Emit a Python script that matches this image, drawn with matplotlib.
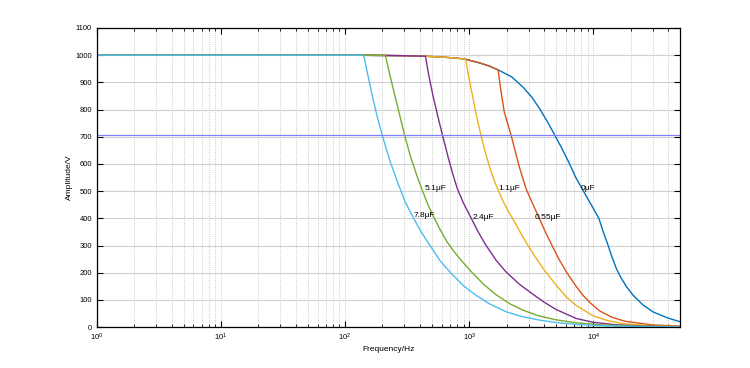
import numpy as np
import matplotlib.pyplot as plt
from matplotlib.ticker import LogLocator, NullFormatter, MultipleLocator

# amplitude vs frequency (f in Hz, amplitude in V)
f_0uF = [1, 100, 200, 300, 444, 600, 800, 935, 1200, 1450, 1706, 2200, 2686,
         3200, 3664, 4200, 4843, 5600, 6397, 7155, 7960, 9290, 11060, 12000,
         13090, 14000, 15270, 16500, 18500, 20800, 25000, 30200, 40000, 50000]
a_0uF = [1000, 1000, 999, 998, 996, 993, 989, 985, 972, 960, 946, 920, 884,
         845, 805, 760, 709, 655, 602, 553, 515, 461, 400, 350,
         302, 262, 216, 185, 148, 118, 82, 56, 33, 20]

f_055uF = [1, 100, 200, 300, 444, 600, 800, 935, 1200, 1450, 1706, 1800, 1911,
           2162, 2525, 2859, 3250, 3663, 4100, 4550, 5200, 6013, 7250, 8200,
           9500, 11190, 14000, 17800, 30000, 50000]
a_055uF = [1000, 1000, 999, 998, 996, 993, 989, 985, 972, 960, 946, 868, 792,
           709, 590, 510, 452, 400, 350, 308, 255, 205, 150, 118,
           88, 60, 37, 22, 8, 4]

f_11uF = [1, 100, 200, 300, 444, 600, 800, 935, 990, 1059, 1140, 1236, 1360,
          1489, 1650, 1850, 2050, 2297, 2600, 2900, 3400, 4018, 5000, 6013,
          7250, 9890, 13000, 17800, 30000, 50000]
a_11uF = [1000, 1000, 999, 998, 996, 993, 989, 985, 920, 853, 780, 709, 635,
          575, 520, 468, 428, 390, 345, 308, 258, 210, 155, 112,
          80, 42, 24, 12, 5, 2]

f_24uF = [1, 100, 200, 300, 444, 470, 509, 555, 606, 680, 740, 800, 900,
          1027, 1180, 1358, 1650, 1969, 2500, 3140, 4000, 5000, 7250, 9890,
          15000, 25000, 50000]
a_24uF = [1000, 1000, 999, 998, 996, 930, 853, 780, 709, 620, 560, 510, 455,
          404, 350, 302, 245, 204, 160, 126, 92, 65, 32, 18,
          9, 4, 1]

f_51uF = [1, 100, 211, 230, 251, 275, 300, 340, 380, 418, 460, 504, 580, 665,
          760, 852, 1027, 1300, 1635, 2100, 2686, 3600, 5000, 7250, 12000,
          25000, 50000]
a_51uF = [1000, 1000, 999, 925, 853, 780, 709, 620, 555, 504, 455, 415, 360, 312,
          276, 248, 206, 158, 120, 87, 63, 42, 27, 16, 8,
          3, 1]

f_78uF = [1, 100, 141, 152, 165, 180, 198, 230, 270, 305, 347, 410, 480, 580,
          707, 900, 1127, 1450, 1969, 2600, 3664, 5000, 7250, 12000, 25000, 50000]
a_78uF = [1000, 1000, 1000, 930, 853, 780, 709, 610, 522, 460, 410, 350, 302, 245,
          200, 152, 118, 86, 57, 40, 26, 17, 10, 5, 2, 1]

labels = ['0μF', '0.55μF', '1.1μF', '2.4μF', '5.1μF', '7.8μF']
label_f = [7950, 3380, 1728, 1066, 437, 355]
label_a = [510, 404, 510, 404, 510, 410]

half_power = 707

colors = ['#0072BD', '#D95319', '#EDB120', '#7E2F8E', '#77AC30', '#4DBEEE']
series = [(f_0uF, a_0uF), (f_055uF, a_055uF), (f_11uF, a_11uF),
          (f_24uF, a_24uF), (f_51uF, a_51uF), (f_78uF, a_78uF)]

plt.rcParams['font.family'] = ['Liberation Sans', 'DejaVu Sans']

fig = plt.figure(figsize=(7.5, 3.68), dpi=100)
ax = fig.add_axes([0.129, 0.111, 0.778, 0.813])

for (f, a), c in zip(series, colors):
    ax.plot(f, a, color=c, linewidth=1.0)

ax.axhline(half_power, color='#7f7fff', linewidth=0.9)

for t, x, y in zip(labels, label_f, label_a):
    ax.text(x, y, t, fontsize=6, ha='left', va='center')

ax.set_xscale('log')
ax.set_xlim(1, 5e4)
ax.set_ylim(0, 1100)
ax.yaxis.set_major_locator(MultipleLocator(100))
ax.xaxis.set_major_locator(LogLocator(base=10, numticks=10))
ax.xaxis.set_minor_locator(LogLocator(base=10, subs=np.arange(2, 10), numticks=10))
ax.xaxis.set_minor_formatter(NullFormatter())

ax.grid(axis='y', which='major', color='#d0d0d0', linewidth=0.8, linestyle='-')
ax.grid(axis='x', which='both', color='#b8b8b8', linewidth=0.6, linestyle=':')
ax.set_axisbelow(True)

ax.tick_params(which='both', direction='in', top=True, right=True, labelsize=5.5)
ax.tick_params(which='major', length=4)
ax.tick_params(which='minor', length=2)
for s in ax.spines.values():
    s.set_linewidth(0.9)

ax.set_xlabel('Frequency/Hz', fontsize=6, labelpad=2)
ax.set_ylabel('Amplitude/V', fontsize=6, labelpad=2)

fig.savefig('out.png', dpi=100)
